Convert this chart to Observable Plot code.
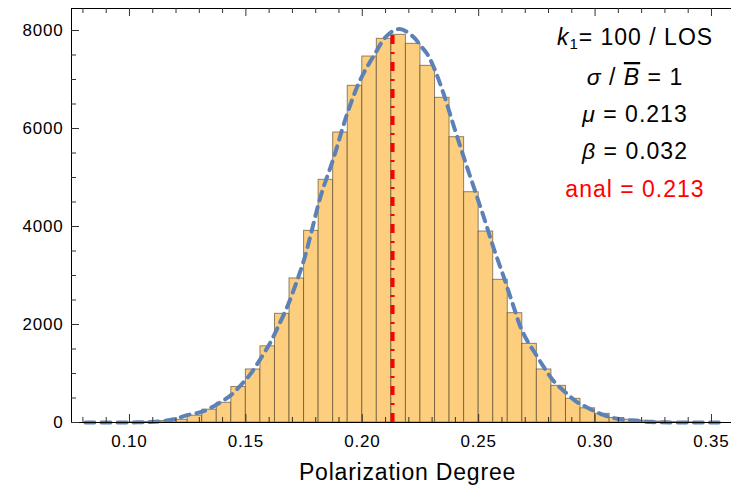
<!DOCTYPE html>
<html><head><meta charset="utf-8">
<script src="https://cdn.jsdelivr.net/npm/d3@7"></script>
<script src="https://cdn.jsdelivr.net/npm/@observablehq/plot@0.6"></script>
<style>
body{margin:0;background:#fff;}
#chart{position:relative;width:731px;height:494px;overflow:hidden;background:#fff;}
</style></head><body><div id="chart"></div>
<script>
// ---- data ----
const binEdges = [0.1, 0.10625, 0.1125, 0.11875, 0.125, 0.13125, 0.1375, 0.14375, 0.15, 0.15625,
  0.1625, 0.16875, 0.175, 0.18125, 0.1875, 0.19375, 0.2, 0.20625, 0.2125, 0.21875,
  0.225, 0.23125, 0.2375, 0.24375, 0.25, 0.25625, 0.2625, 0.26875, 0.275, 0.28125,
  0.2875, 0.29375, 0.3, 0.30625, 0.3125, 0.31875, 0.325, 0.33125, 0.3375, 0.34375];
const counts = [4, 10, 28, 55, 140, 262, 402, 724, 1082, 1555,
  2218, 2940, 3912, 4952, 5918, 6871, 7469, 7830, 7912, 7728,
  7279, 6626, 5823, 4700, 3898, 2912, 2231, 1605, 1082, 748,
  483, 290, 177, 92, 58, 36, 18, 8, 3];

const curveX = [0.0811, 0.095, 0.103, 0.109, 0.114, 0.119, 0.1248, 0.1319, 0.1391, 0.1434,
  0.1477, 0.152, 0.1563, 0.1606, 0.1634, 0.1677, 0.172, 0.1749, 0.1777, 0.182,
  0.1878, 0.1935, 0.1992, 0.2049, 0.2107, 0.2160, 0.2221, 0.225, 0.2279, 0.2307,
  0.235, 0.2393, 0.2436, 0.2479, 0.2522, 0.2565, 0.2608, 0.2651, 0.268, 0.2708,
  0.2744, 0.278, 0.2823, 0.288, 0.2923, 0.2952, 0.3023, 0.3095, 0.3166, 0.3238, 0.335, 0.3555];
const curveY = [0, 0, 3, 10, 28, 65, 150, 230, 414, 551,
  755, 993, 1300, 1639, 1912, 2354, 2898, 3306, 3800, 4598,
  5414, 6300, 7000, 7480, 7900, 8030, 7864, 7694, 7520, 7251,
  6700, 6050, 5414, 4802, 4190, 3550, 2965, 2350, 1945, 1673,
  1401, 1129, 840, 585, 414, 340, 177, 75, 41, 10, 0, 0];

const analValue = 0.213;
const analTop = 7950;

const yMajor = [0, 2000, 4000, 6000, 8000];
const yTickLabels = ["0", "2000", "4000", "6000", "8000"];
const yMinor = [500, 1000, 1500, 2500, 3000, 3500, 4500, 5000, 5500, 6500, 7000, 7500];
const xMajor = [0.10, 0.15, 0.20, 0.25, 0.30, 0.35];
const xTickLabels = ["0.10", "0.15", "0.20", "0.25", "0.30", "0.35"];
const xMinor = [0.08, 0.09, 0.11, 0.12, 0.13, 0.14, 0.16, 0.17, 0.18, 0.19, 0.21, 0.22, 0.23, 0.24,
  0.26, 0.27, 0.28, 0.29, 0.31, 0.32, 0.33, 0.34];
const xLabel = "Polarization Degree";

// ---- layout ----
const W = 731, H = 494, mL = 71, mR = 0, mT = 8, mB = 72;
const plotW = W - mL - mR, plotH = H - mT - mB;
const xDomain = [0.0751, 0.3586], yDomain = [0, 8449];

const bins = counts.map((c, i) => ({x1: binEdges[i], x2: binEdges[i + 1], y1: 0, y2: c}));
const curve = curveX.map((x, i) => ({x, y: curveY[i]}));

const tickColor = "#333";
const chart = Plot.plot({
  width: W, height: H,
  marginLeft: mL, marginRight: mR, marginTop: mT, marginBottom: mB,
  x: {domain: xDomain, axis: null},
  y: {domain: yDomain, axis: null},
  style: {fontFamily: "'Liberation Sans', Arial, sans-serif", background: "#fff", overflow: "visible"},
  marks: [
    Plot.rect(bins, {x1: "x1", x2: "x2", y1: "y1", y2: "y2", fill: "#FCCE7E",
      stroke: "#4a3c25", strokeOpacity: 0.6, strokeWidth: 1}),
    Plot.ruleX([analValue], {y1: 0, y2: analTop, stroke: "#FF0000", strokeWidth: 4,
      strokeDasharray: "9,8,2,8"}),
    Plot.line(curve, {x: "x", y: "y", stroke: "#5E81B5", strokeWidth: 4,
      strokeDasharray: "9,7", curve: "catmull-rom"}),
    // frame
    Plot.ruleX([xDomain[0]], {stroke: "#000", strokeWidth: 1}),
    Plot.ruleY([yDomain[0]], {stroke: "#000", strokeWidth: 1}),
    Plot.ruleY([yDomain[1]], {stroke: "#000", strokeWidth: 1}),
    // bottom ticks (inward)
    Plot.ruleX(xMajor, {x: d => d, insetTop: plotH - 8, stroke: tickColor}),
    Plot.ruleX(xMinor, {x: d => d, insetTop: plotH - 5, stroke: tickColor}),
    // top ticks
    Plot.ruleX(xMajor, {x: d => d, insetBottom: plotH - 8, stroke: tickColor}),
    Plot.ruleX(xMinor, {x: d => d, insetBottom: plotH - 5, stroke: tickColor}),
    // left ticks
    Plot.ruleY(yMajor, {y: d => d, insetRight: plotW - 8, stroke: tickColor}),
    Plot.ruleY(yMinor, {y: d => d, insetRight: plotW - 5, stroke: tickColor}),
    // tick labels
    Plot.text(yMajor, {y: d => d, text: (d, i) => yTickLabels[i], frameAnchor: "left",
      dx: -8, textAnchor: "end", lineAnchor: "middle", fontSize: 17, fill: "#000"}),
    Plot.text(xMajor, {x: d => d, text: (d, i) => xTickLabels[i], frameAnchor: "bottom",
      dy: 19.3, lineAnchor: "middle", fontSize: 17, fill: "#000"}),
    Plot.text([xLabel], {text: d => d, frameAnchor: "bottom", dx: 6, dy: 50.6,
      lineAnchor: "middle", fontSize: 23, fill: "#000"})
  ]
});

// letter spacing on tick labels / axis label to match reference glyph widths
d3.select(chart).selectAll("text").style("letter-spacing", "0.8px");

// ---- annotation block (real text) ----
const ann = d3.select(chart).append("g")
  .attr("font-family", "'Liberation Sans', Arial, sans-serif")
  .attr("font-size", 23).attr("text-anchor", "middle").style("letter-spacing", "1px");
const cx = 635;
let t = ann.append("text").attr("x", cx).attr("y", 45).attr("fill", "#000");
t.append("tspan").attr("font-style", "italic").text("k");
t.append("tspan").attr("font-size", 15).attr("dy", 4).text("1");
t.append("tspan").attr("dy", -4).text("= 100 / LOS");
t = ann.append("text").attr("x", cx).attr("y", 85).attr("fill", "#000");
t.append("tspan").attr("font-style", "italic").text("σ");
t.append("tspan").text(" / ");
t.append("tspan").attr("font-style", "italic").style("text-decoration", "overline").text("B");
t.append("tspan").text(" = 1");
t = ann.append("text").attr("x", cx).attr("y", 122).attr("fill", "#000");
t.append("tspan").attr("font-style", "italic").text("μ");
t.append("tspan").text(" = 0.213");
t = ann.append("text").attr("x", cx).attr("y", 159).attr("fill", "#000");
t.append("tspan").attr("font-style", "italic").text("β");
t.append("tspan").text(" = 0.032");
ann.append("text").attr("x", cx).attr("y", 197).attr("fill", "#FF0000").text("anal = 0.213");

document.getElementById("chart").appendChild(chart);
</script>
</body></html>
